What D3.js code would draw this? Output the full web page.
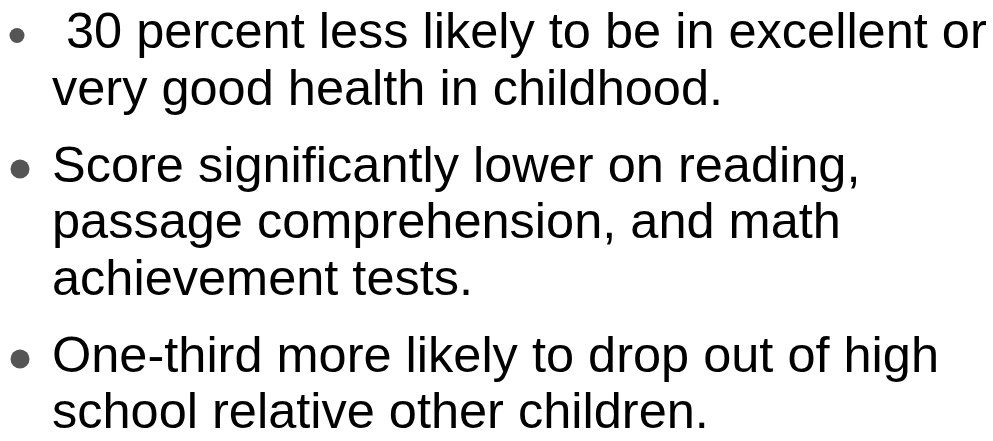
<!DOCTYPE html>
<html>
<head>
<meta charset="utf-8">
<script src="https://cdn.jsdelivr.net/npm/d3@7"></script>
<style>
  body { margin: 0; background: #fff; }
  svg text { font-family: "Liberation Sans", Arial, sans-serif; white-space: pre; }
</style>
</head>
<body>
<div id="slide"></div>
<script>
// Bullet points, one array of wrapped lines per bullet
const bullet1 = [" 30 percent less likely to be in excellent or", "very good health in childhood."];
const bullet2 = ["Score significantly lower on reading,", "passage comprehension, and math", "achievement tests."];
const bullet3 = ["One-third more likely to drop out of high", "school relative other children."];
const bullets = [bullet1, bullet2, bullet3];

const width = 993, height = 441;
const textX = 52, fontSize = 50.5;
const lineStep = 56.5, bulletStep = 77, firstBaseline = 48;

const svg = d3.select("#slide")
  .append("svg")
    .attr("width", width)
    .attr("height", height);

svg.append("rect")
    .attr("width", width)
    .attr("height", height)
    .attr("fill", "#fff");

// work out baselines for every line
let y = firstBaseline;
const lines = [];
bullets.forEach((b, i) => {
  if (i > 0) y += bulletStep - lineStep;
  b.forEach((t, j) => {
    lines.push({ bullet: i, first: j === 0, text: t, y: y });
    y += lineStep;
  });
});

// bullet dots (the first one is a bit smaller in the original slide)
svg.selectAll(".dot")
  .data(lines.filter(d => d.first))
  .enter()
  .append("circle")
    .attr("class", "dot")
    .attr("cx", d => d.bullet === 0 ? 17 : 20)
    .attr("cy", d => d.y - 12.5)
    .attr("r", d => d.bullet === 0 ? 7.5 : 9.5)
    .attr("fill", "#555");

// text lines
svg.selectAll(".line")
  .data(lines)
  .enter()
  .append("text")
    .attr("class", "line")
    .attr("x", textX)
    .attr("y", d => d.y)
    .attr("font-size", fontSize)
    .attr("fill", "#000")
    .text(d => d.text);
</script>
</body>
</html>
